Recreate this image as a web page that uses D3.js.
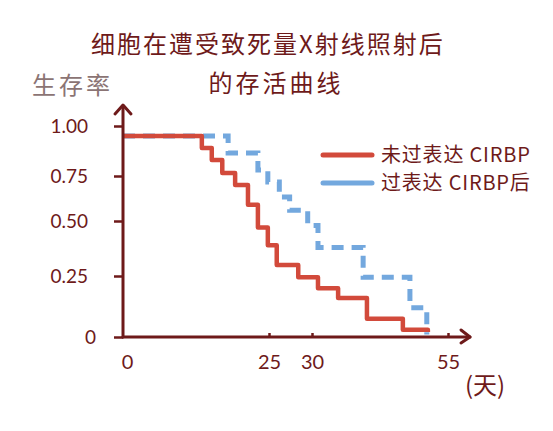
<!DOCTYPE html>
<html><head><meta charset="utf-8">
<script src="https://cdn.jsdelivr.net/npm/d3@7"></script>
<style>
html,body{margin:0;padding:0;background:#fff;}
svg{display:block;}
</style></head>
<body>
<div id="chart"></div>
<script>
// ---- data ----
const titleLines = ["细胞在遭受致死量X射线照射后", "的存活曲线"];
const yAxisTitle = "生存率";
const xAxisUnit = "(天)";
const xTickValues = [0, 25, 30, 55];
const yTickValues = [0, 0.25, 0.5, 0.75, 1];
const yTickLabels = ["0", "0.25", "0.50", "0.75", "1.00"];
const seriesNames = ["未过表达 CIRBP", "过表达 CIRBP后"];
const redTimes    = [0, 13.5, 15.2, 17, 19.2, 21.4, 23.1, 24.8, 25.9, 28.4, 31.1, 34.8, 40.1, 46.7, 51.3];
const redSurvival = [0.95, 0.89, 0.83, 0.765, 0.70, 0.59, 0.47, 0.39, 0.30, 0.245, 0.20, 0.16, 0.075, 0.03, 0.02];
const blueTimes    = [0, 18.0, 23.1, 24.8, 26.2, 27.4, 29.5, 31.1, 39.4, 48.0, 51.1];
const blueSurvival = [0.95, 0.865, 0.78, 0.717, 0.633, 0.56, 0.48, 0.38, 0.245, 0.12, 0.01];

// ---- drawing ----
const W = 553, H = 431;
const maroon = "#6e1a1a";
const redC = "#d24a3b", blueC = "#73a8de";
const svg = d3.select("#chart").append("svg").attr("width", W).attr("height", H);

const x = d3.scaleLinear().domain([0, 25, 30, 55]).range([123, 269, 312, 448]);
const y = d3.scaleLinear().domain([0, 0.25, 0.5, 0.75, 1]).range([337, 276, 221, 176, 126]);

const cjk = "'Noto Sans CJK SC', sans-serif";
const latin = "Lato, 'Noto Sans', sans-serif";

// title
svg.append("text").attr("x", 268).attr("y", 53).attr("text-anchor", "middle")
  .attr("font-family", cjk).attr("font-size", 24).attr("letter-spacing", 2)
  .attr("fill", maroon).text(titleLines[0]);
svg.append("text").attr("x", 276).attr("y", 92).attr("text-anchor", "middle")
  .attr("font-family", cjk).attr("font-size", 24).attr("letter-spacing", 3)
  .attr("fill", maroon).text(titleLines[1]);

// y axis title
svg.append("text").attr("x", 32).attr("y", 94)
  .attr("font-family", cjk).attr("font-size", 24).attr("letter-spacing", 3)
  .attr("fill", "#8b7474").text(yAxisTitle);

// curves
const line = d3.line().curve(d3.curveStepAfter).x(d => x(d[0])).y(d => y(d[1]));
const redData = redTimes.map((t, i) => [t, redSurvival[i]]);
const blueData = blueTimes.map((t, i) => [t, blueSurvival[i]]);
svg.append("path").attr("d", line(blueData)).attr("fill", "none")
  .attr("stroke", blueC).attr("stroke-width", 5).attr("stroke-dasharray", "12,8");
svg.append("path").attr("d", line(redData)).attr("fill", "none")
  .attr("stroke", redC).attr("stroke-width", 4.5).attr("stroke-linejoin", "round");

// axes
const yAxis = d3.axisLeft(y).tickValues(yTickValues)
  .tickFormat((d, i) => yTickLabels[i]).tickSize(9).tickPadding(26);
const gy = svg.append("g").attr("transform", `translate(${x(0)},0)`).call(yAxis);
gy.select(".domain").remove();
gy.selectAll(".tick line").attr("stroke", maroon).attr("stroke-width", 2.5);
gy.selectAll(".tick text").attr("fill", maroon).attr("font-family", latin).attr("font-size", 19)
  .attr("dx", d => d === 0 ? 8 : 0);

const xAxis = d3.axisBottom(x).tickValues(xTickValues).tickSize(-4).tickPadding(18);
const gx = svg.append("g").attr("transform", `translate(0,${y(0)})`).call(xAxis);
gx.select(".domain").remove();
gx.selectAll(".tick line").attr("stroke", maroon).attr("stroke-width", 2.5)
  .attr("opacity", d => d === 0 ? 0 : 1);
gx.selectAll(".tick text").attr("fill", maroon).attr("font-family", latin).attr("font-size", 20)
  .attr("dx", d => d === 0 ? 4 : 0);

// axis lines with arrows
const ax = svg.append("g").attr("stroke", maroon).attr("stroke-width", 3)
  .attr("fill", "none").attr("stroke-linecap", "round").attr("stroke-linejoin", "round");
ax.append("path").attr("d", `M${x(0)},${y(0)}V106`);
ax.append("path").attr("d", `M${x(0) - 8},114L${x(0)},105L${x(0) + 8},114`);
ax.append("path").attr("d", `M${x(0)},${y(0)}H470`);
ax.append("path").attr("d", `M461,${y(0) - 7}L470,${y(0)}L461,${y(0) + 6}`);

svg.append("text").attr("x", 465).attr("y", 394)
  .attr("font-family", cjk).attr("font-size", 24)
  .attr("fill", maroon).text(xAxisUnit);

// legend
const legend = svg.append("g");
[redC, blueC].forEach((c, i) => {
  const ly = 155 + i * 28;
  legend.append("line").attr("x1", 323).attr("x2", 372).attr("y1", ly).attr("y2", ly)
    .attr("stroke", c).attr("stroke-width", 5).attr("stroke-linecap", "round");
  legend.append("text").attr("x", 381).attr("y", ly + 7)
    .attr("font-family", cjk).attr("font-size", 20).attr("letter-spacing", 0.8)
    .attr("fill", maroon).text(seriesNames[i]);
});
</script>
</body></html>
